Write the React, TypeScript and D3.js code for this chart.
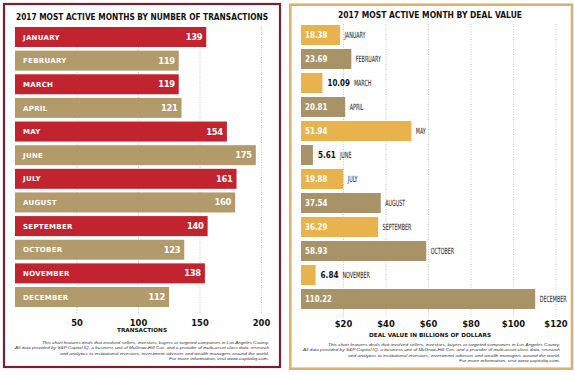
import React from "react";
import * as d3 from "d3";

const months = ["JANUARY","FEBRUARY","MARCH","APRIL","MAY","JUNE","JULY","AUGUST","SEPTEMBER","OCTOBER","NOVEMBER","DECEMBER"];
const transactions = [139,119,119,121,154,175,161,160,140,123,138,112];
const dealValues = [18.38,23.69,10.09,20.81,51.94,5.61,19.88,37.54,36.29,58.93,6.84,110.22];
const txTicks = [50,100,150,200];
const valueTicks = [20,40,60,80,100,120];
const footnote = [
  "This chart features deals that involved sellers, investors, buyers or targeted companies in Los Angeles County.",
  "All data provided by S&P Capital IQ, a business unit of McGraw-Hill Cos. and a provider of multi-asset class data, research",
  "and analytics to institutional investors, investment advisors  and wealth managers around the world.",
  "For more information, visit www.capitaliq.com.",
];

const RED = "#c1242f";
const TAN_L = "#b39a6b";
const GOLD = "#e8b34d";
const TAN_R = "#a89368";
const FONT = "'DejaVu Sans', sans-serif";

export default function App() {
  // left panel scales
  const yL = d3.scaleBand<string>().domain(months).range([27, 307]).paddingInner(0.154).paddingOuter(0);
  const xBarL = d3.scaleLinear().domain([0, 200]).range([15, 290.2]);
  const xAxL = d3.scaleLinear().domain([0, 200]).range([15.5, 261.5]);
  // right panel scales
  const yR = d3.scaleBand<string>().domain(months).range([25, 309]).paddingInner(0.1667).paddingOuter(0);
  const xR = d3.scaleLinear().domain([0, 120]).range([301, 556]);

  const footL = [227, 254, 209, 100];
  const footR = [232, 257, 212, 101];

  return (
    <svg width={574} height={375} style={{ position: "absolute", left: 0, top: 0, background: "#fff" }} fontFamily={FONT}>
      <rect x={0} y={0} width={574} height={375} fill="#fff" />
      {/* LEFT PANEL */}
      <rect x={4} y={4} width={276} height={363} fill="none" stroke="#7b1f31" strokeWidth={2.2} />
      <text x={16} y={19.5} fontSize={8.6} fontWeight="bold" fill="#111" textLength={252} lengthAdjust="spacingAndGlyphs">2017 MOST ACTIVE MONTHS BY NUMBER OF TRANSACTIONS</text>
      {txTicks.map((t) => (
        <line key={t} x1={xAxL(t)} x2={xAxL(t)} y1={27} y2={314} stroke="#b8b8b8" strokeWidth={0.8} strokeDasharray="1,1.5" />
      ))}
      {months.map((m, i) => {
        const y = yL(m)!;
        const h = yL.bandwidth();
        const x1 = xBarL(transactions[i]);
        return (
          <g key={m}>
            <rect x={xBarL(0)} y={y} width={x1 - xBarL(0)} height={h} fill={i % 2 === 0 ? RED : TAN_L} />
            <text x={23} y={y + h / 2 + 2.6} fontSize={7} fontWeight="bold" fill="#fff" letterSpacing={0.3}>{m}</text>
            <text x={x1 - 4} y={y + h / 2 + 3} fontSize={8.4} fontWeight="bold" fill="#fff" textAnchor="end" letterSpacing={-0.3}>{transactions[i]}</text>
          </g>
        );
      })}
      {txTicks.map((t) => (
        <text key={t} x={xAxL(t)} y={325.5} fontSize={8.4} fontWeight="bold" fill="#111" textAnchor="middle">{t}</text>
      ))}
      <text x={142} y={332} fontSize={5.6} fontWeight="bold" fill="#111" textAnchor="middle" textLength={50} lengthAdjust="spacingAndGlyphs">TRANSACTIONS</text>
      {footnote.map((f, i) => (
        <text key={i} x={269} y={344 + i * 5.35} fontSize={4.2} fontStyle="italic" fill="#333" textAnchor="end" fontFamily="'Liberation Sans', sans-serif" textLength={footL[i]} lengthAdjust="spacingAndGlyphs">{f}</text>
      ))}

      {/* RIGHT PANEL */}
      <rect x={290.3} y={4.7} width={281.7} height={364} fill="none" stroke="#d9b36c" strokeWidth={2.6} />
      <text x={430} y={18} fontSize={8.6} fontWeight="bold" fill="#111" textAnchor="middle" textLength={184} lengthAdjust="spacingAndGlyphs">2017 MOST ACTIVE MONTH BY DEAL VALUE</text>
      {valueTicks.map((t) => (
        <line key={t} x1={xR(t)} x2={xR(t)} y1={24} y2={317} stroke="#b8b8b8" strokeWidth={0.8} strokeDasharray="1,1.5" />
      ))}
      {months.map((m, i) => {
        const y = yR(m)!;
        const h = yR.bandwidth();
        const v = dealValues[i];
        const x1 = xR(v);
        const small = v < 12;
        const label = v.toFixed(2);
        const valW = label.length * 4.5;
        const monthX = small ? x1 + 5 + valW + 4 : x1 + 4.5;
        return (
          <g key={m}>
            <rect x={xR(0)} y={y} width={x1 - xR(0)} height={h} fill={i % 2 === 0 ? GOLD : TAN_R} />
            {small ? (
              <text x={x1 + 5} y={y + h / 2 + 3} fontSize={8.4} fontWeight="bold" fill="#111" textLength={valW} lengthAdjust="spacingAndGlyphs">{label}</text>
            ) : (
              <text x={305} y={y + h / 2 + 3} fontSize={8.4} fontWeight="bold" fill="#fff" textLength={valW} lengthAdjust="spacingAndGlyphs">{label}</text>
            )}
            <text transform={`translate(${monthX},${y + h / 2 + 3.2}) scale(0.62,1)`} fontSize={8.6} fill="#111" fontFamily="'DejaVu Sans Condensed', 'DejaVu Sans', sans-serif">{m}</text>
          </g>
        );
      })}
      {valueTicks.map((t) => (
        <text key={t} x={xR(t)} y={326.5} fontSize={8.4} fontWeight="bold" fill="#111" textAnchor="middle">{"$" + t}</text>
      ))}
      <text x={430} y={336.5} fontSize={5.6} fontWeight="bold" fill="#111" textAnchor="middle" textLength={122} lengthAdjust="spacingAndGlyphs">DEAL VALUE IN BILLIONS OF DOLLARS</text>
      {footnote.map((f, i) => (
        <text key={i} x={560} y={346 + i * 5.35} fontSize={4.2} fontStyle="italic" fill="#333" textAnchor="end" fontFamily="'Liberation Sans', sans-serif" textLength={footR[i]} lengthAdjust="spacingAndGlyphs">{f}</text>
      ))}
    </svg>
  );
}
